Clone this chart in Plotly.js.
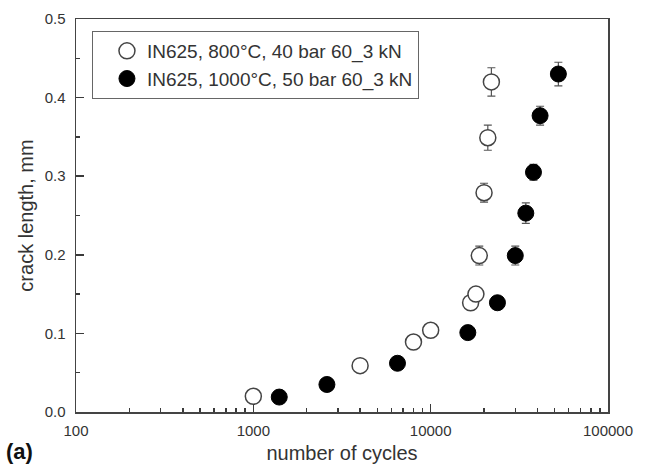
<!DOCTYPE html>
<html>
<head>
<meta charset="utf-8">
<script src="https://cdn.plot.ly/plotly-3.0.1.min.js"></script>
<style>
  html, body { margin: 0; padding: 0; background: #fff; }
  #chart { width: 648px; height: 467px; }
</style>
</head>
<body>
<div id="chart"></div>
<script>
// IN625 crack growth: crack length vs number of cycles
const seriesNames = ['IN625, 800°C, 40 bar 60_3 kN', 'IN625, 1000°C, 50 bar 60_3 kN'];

const cycles800 = [1000, 4000, 8000, 10000, 16800, 18000, 18800, 20000, 21000, 22000];
const crack800  = [0.020, 0.059, 0.089, 0.104, 0.139, 0.150, 0.199, 0.279, 0.349, 0.420];
const err800    = [0.005, 0.005, 0.004, 0.004, 0.004, 0.004, 0.012, 0.012, 0.016, 0.018];

const cycles1000 = [1400, 2600, 6500, 16200, 23800, 30000, 34400, 38000, 41400, 52500];
const crack1000  = [0.019, 0.035, 0.062, 0.101, 0.139, 0.199, 0.253, 0.305, 0.377, 0.430];
const err1000    = [0.004, 0.004, 0.004, 0.005, 0.005, 0.012, 0.013, 0.010, 0.012, 0.015];

const xTickVals = [100, 1000, 10000, 100000];
const xTickText = ['100', '1000', '10000', '100000'];
const xMinorVals = [200, 300, 400, 500, 600, 700, 800, 900,
                    2000, 3000, 4000, 5000, 6000, 7000, 8000, 9000,
                    20000, 30000, 40000, 50000, 60000, 70000, 80000, 90000];
const yMinorVals = [0.05, 0.15, 0.25, 0.35, 0.45];

const textColor = '#333';
const lineColor = '#3a3a3a';
const fontFamily = '"Liberation Sans", Arial, sans-serif';

const traces = [
  {
    type: 'scatter', mode: 'markers', name: seriesNames[0],
    x: cycles800, y: crack800,
    error_y: { type: 'data', array: err800, visible: true, color: '#555', thickness: 1.2, width: 4 },
    marker: { symbol: 'circle', size: 16, color: '#fff', line: { color: '#444', width: 1.5 } }
  },
  {
    type: 'scatter', mode: 'markers', name: seriesNames[1],
    x: cycles1000, y: crack1000,
    error_y: { type: 'data', array: err1000, visible: true, color: '#555', thickness: 1.2, width: 4 },
    marker: { symbol: 'circle', size: 16, color: '#000', line: { color: '#000', width: 1 } }
  }
];

const layout = {
  width: 648, height: 467,
  margin: { l: 76, r: 40, t: 19, b: 55 },
  paper_bgcolor: '#fff', plot_bgcolor: '#fff',
  font: { family: fontFamily, color: textColor, size: 15 },
  showlegend: true,
  legend: {
    x: 0.030, y: 0.9695, xanchor: 'left', yanchor: 'top',
    bgcolor: '#fff', bordercolor: '#666', borderwidth: 1,
    font: { size: 19, color: textColor, family: fontFamily },
    indentation: 14
  },
  xaxis: {
    type: 'log', range: [2, 5],
    tickvals: xTickVals, ticktext: xTickText,
    ticks: 'inside', ticklen: 8, tickwidth: 1.5, tickcolor: lineColor,
    minor: { tickvals: xMinorVals, ticks: 'inside', ticklen: 4, tickwidth: 1.5, tickcolor: lineColor, showgrid: false },
    showgrid: false, zeroline: false,
    showline: true, mirror: true, linecolor: '#444', linewidth: 1.5,
    tickfont: { size: 15, color: textColor },
    ticklabelstandoff: 4,
    title: { text: 'number of cycles', font: { size: 20, color: textColor }, standoff: 8 }
  },
  yaxis: {
    range: [0, 0.5], dtick: 0.1, tick0: 0, tickformat: '.1f',
    ticks: 'inside', ticklen: 8, tickwidth: 1.5, tickcolor: lineColor,
    minor: { tickvals: yMinorVals, ticks: 'inside', ticklen: 4, tickwidth: 1.5, tickcolor: lineColor, showgrid: false },
    showgrid: false, zeroline: false,
    showline: true, mirror: true, linecolor: '#444', linewidth: 1.5,
    tickfont: { size: 15, color: textColor },
    ticklabelstandoff: 6,
    title: { text: 'crack length, mm', font: { size: 20, color: textColor }, standoff: 5 }
  },
  annotations: [
    {
      text: '<b>(a)</b>', xref: 'paper', yref: 'paper',
      x: -0.135, y: -0.137, xanchor: 'left', yanchor: 'bottom',
      showarrow: false, font: { size: 22, color: '#111', family: fontFamily }
    }
  ]
};

Plotly.newPlot('chart', traces, layout, { displayModeBar: false, staticPlot: true });
</script>
</body>
</html>
